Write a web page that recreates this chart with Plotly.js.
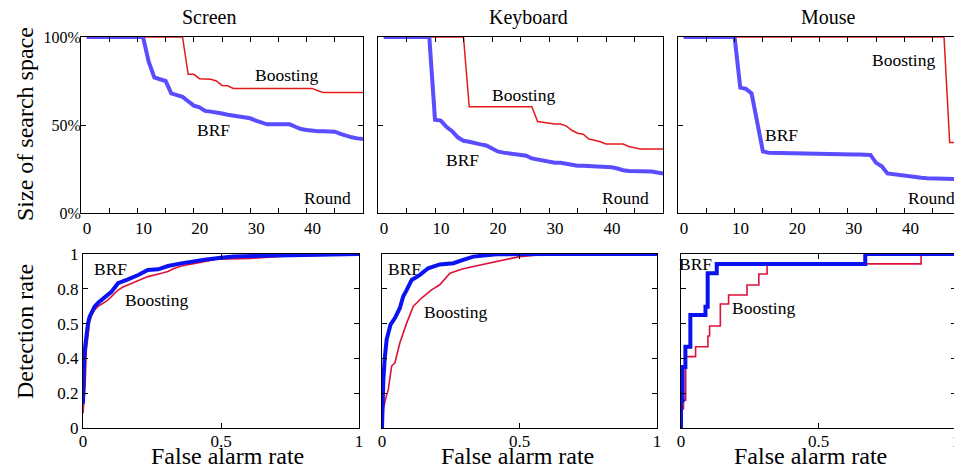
<!DOCTYPE html>
<html>
<head>
<meta charset="utf-8">
<script src="https://cdn.plot.ly/plotly-3.0.1.min.js"></script>
<style>
html, body { margin: 0; padding: 0; overflow: hidden; background: #fff; }
#chart { width: 962px; height: 470px; }
</style>
</head>
<body>
<div id="chart"></div>
<script>
// ---------- DATA ----------
var panels = ["Screen", "Keyboard", "Mouse"];
var rounds = [1,2,3,4,5,6,7,8,9,10,11,12,13,14,15,16,17,18,19,20,21,22,23,24,25,26,27,28,29,30,31,32,33,34,35,36,37,38,39,40,41,42,43,44,45,46,47,48,49,50];

// Size of search space (%) per round
var screenBRF = [100,100,100,100,100,100,100,100,100,100,100,86,77,76,75,68,67,66,63.5,61,60,58,57.6,57.3,56.5,55.8,55.2,54.5,54.2,53.8,52.5,51.3,50.4,50.4,50.4,50.4,50.4,49,47.7,47.2,46.7,46.5,46.4,46.3,46.2,45,43.8,43,42.4,42];
var screenBoost = [100,100,100,100,100,100,100,100,100,100,100,100,100,100,100,100,100,100,78.8,78.8,76.3,76,76,75,72.5,72.3,70.8,70.8,70.8,70.8,70.8,70.8,70.8,70.8,70.8,70.8,70.8,70.8,70.8,70.8,70.8,69.5,68.4,68.4,68.4,68.4,68.4,68.4,68.4,68.4];
var keyboardBRF = [100,100,100,100,100,100,100,100,100,53,52.5,49,46.5,43,41,40.5,40,39,38.4,36.5,35,34.3,33.9,33.5,33.2,32.5,31,30.3,29.5,28.8,28.6,28.5,28,27,26.8,26.8,26.7,26.7,26.7,26.4,26,25.3,24.3,23.9,23.9,23.9,23.8,23.6,23,22.5];
var keyboardBoost = [100,100,100,100,100,100,100,100,100,100,100,100,100,100,100,60.4,60.4,60.4,60.4,60.4,60.4,60.4,60.4,60.4,60.4,60.4,60.4,52,51.5,51,50.6,50.6,49.5,47,45.3,44.8,42,41.3,40.5,39.2,39.2,39.2,39.2,37.8,37.3,36.4,36.4,36.4,36.4,36.4];
var mouseBRF = [100,100,100,100,100,100,100,100,100,100,71.2,70.5,68,51,35,34.3,34.2,34.1,34,34,33.9,33.8,33.8,33.7,33.6,33.6,33.5,33.5,33.4,33.4,33.3,33.3,33.2,33,28.5,26.5,22.5,22,21.5,21,20.6,20.2,20,19.8,19.6,19.5,19.4,19.3,19.3,19.3];
var mouseBoost = [100,100,100,100,100,100,100,100,100,100,100,100,100,100,100,100,100,100,100,100,100,100,100,100,100,100,100,100,100,100,100,100,100,100,100,100,100,100,100,100,100,100,100,100,100,100,100,40,40,40];

// ROC curves: false alarm rate / detection rate
var screenBRF_fa = [0,0.002,0.004,0.008,0.012,0.018,0.024,0.032,0.042,0.055,0.066,0.085,0.103,0.127,0.145,0.163,0.2,0.235,0.272,0.308,0.356,0.405,0.447,0.5,0.545,0.65,0.79,0.9,1];
var screenBRF_dr = [0.14,0.3,0.39,0.47,0.544,0.6,0.64,0.67,0.697,0.72,0.736,0.76,0.783,0.832,0.846,0.854,0.879,0.908,0.912,0.931,0.946,0.96,0.969,0.978,0.985,0.99,0.993,0.997,1.0];
var screenBoost_fa = [0,0.004,0.008,0.012,0.018,0.024,0.032,0.042,0.055,0.072,0.086,0.103,0.116,0.127,0.145,0.163,0.2,0.235,0.284,0.308,0.327,0.356,0.405,0.485,0.606,0.75,0.9,1];
var screenBoost_dr = [0.084,0.17,0.257,0.448,0.55,0.611,0.65,0.678,0.70,0.716,0.73,0.755,0.774,0.793,0.81,0.822,0.851,0.87,0.889,0.9,0.915,0.931,0.946,0.97,0.975,0.99,0.993,0.995];
var keyboardBRF_fa = [0,0.002,0.005,0.01,0.017,0.031,0.047,0.065,0.077,0.09,0.108,0.138,0.168,0.21,0.26,0.295,0.332,0.416,0.5,0.6,0.8,1];
var keyboardBRF_dr = [0,0.15,0.28,0.4,0.51,0.594,0.632,0.69,0.756,0.794,0.851,0.88,0.918,0.94,0.947,0.966,0.985,0.998,1,1,1,1];
var keyboardBoost_fa = [0,0.002,0.005,0.012,0.023,0.035,0.047,0.065,0.09,0.114,0.144,0.18,0.21,0.247,0.289,0.332,0.392,0.44,0.5,0.586,0.65,0.8,1];
var keyboardBoost_dr = [0,0.06,0.11,0.16,0.223,0.356,0.375,0.49,0.604,0.7,0.747,0.794,0.823,0.89,0.912,0.928,0.947,0.966,0.985,0.998,1,1,1];
// mouse ROC is a step function: at each false alarm rate the detection rate becomes the given value
var mouseBRF_fa = [0,0,0.006,0.016,0.034,0.089,0.097,0.13,0.67,1];
var mouseBRF_dr = [0,0.16,0.35,0.467,0.649,0.697,0.889,0.943,1,1];
var mouseBoost_fa = [0,0.004,0.009,0.017,0.053,0.098,0.104,0.143,0.173,0.24,0.283,0.313,0.873,1];
var mouseBoost_dr = [0,0.11,0.16,0.41,0.467,0.529,0.586,0.713,0.764,0.822,0.885,0.943,1,1];

var topTickVals = [0,5,10,15,20,25,30,35,40,45,50];
var topTickText = ["0","","10","","20","","30","","40","",""];
var pctTickVals = [0,50,100];
var pctTickText = ["0%","50%","100%"];
var rocYTickVals = [0,0.2,0.4,0.6,0.8,1];
var rocYTickText = ["0","0.2","0.4","0.5","0.8","1"];
var rocXTickVals = [0,0.5,1];
var rocXTickText = ["0","0.5","1"];

// ---------- STYLE ----------
var W = 962, H = 470;
var FONT = '"Liberation Serif", "Times New Roman", "DejaVu Serif", serif';
var C_BRF_TOP = '#5a4cff', C_BOOST_TOP = '#e41a1a';
var C_BRF_BOT = '#0a12f2', C_BOOST_BOT = '#e0103c';

function px(v) { return v / W; }
function py(v) { return 1 - v / H; }

var topDomX = [[81,363],[378,663],[678,961]];
var botDomX = [[83,359],[382,657],[681,956]];
var topDomY = [py(213), py(37)];
var botDomY = [py(428), py(254)];

var traces = [];
var topData = [[screenBRF, screenBoost],[keyboardBRF, keyboardBoost],[mouseBRF, mouseBoost]];
var rocData = [
  [screenBRF_fa, screenBRF_dr, screenBoost_fa, screenBoost_dr, 'linear'],
  [keyboardBRF_fa, keyboardBRF_dr, keyboardBoost_fa, keyboardBoost_dr, 'linear'],
  [mouseBRF_fa, mouseBRF_dr, mouseBoost_fa, mouseBoost_dr, 'hv']
];

for (var i = 0; i < 3; i++) {
  var xa = 'x' + (i === 0 ? '' : (i + 1));
  var ya = 'y' + (i === 0 ? '' : (i + 1));
  traces.push({x: rounds, y: topData[i][1], xaxis: xa, yaxis: ya, mode: 'lines', name: 'Boosting',
    line: {color: C_BOOST_TOP, width: 1.5}, hoverinfo: 'skip'});
  traces.push({x: rounds, y: topData[i][0], xaxis: xa, yaxis: ya, mode: 'lines', name: 'BRF',
    line: {color: C_BRF_TOP, width: 4}, hoverinfo: 'skip'});
}
for (var j = 0; j < 3; j++) {
  var xb = 'x' + (j + 4);
  var yb = 'y' + (j + 4);
  var r = rocData[j];
  traces.push({x: r[2], y: r[3], xaxis: xb, yaxis: yb, mode: 'lines', name: 'Boosting',
    line: {color: C_BOOST_BOT, width: 1.6, shape: r[4]}, hoverinfo: 'skip'});
  traces.push({x: r[0], y: r[1], xaxis: xb, yaxis: yb, mode: 'lines', name: 'BRF',
    line: {color: C_BRF_BOT, width: 4, shape: r[4]}, hoverinfo: 'skip'});
}

var layout = {
  width: W, height: H,
  margin: {l: 0, r: 0, t: 0, b: 0},
  paper_bgcolor: '#fff', plot_bgcolor: '#fff',
  showlegend: false,
  font: {family: FONT, color: '#000', size: 17},
  annotations: []
};

function baseAxis() {
  return {showgrid: false, zeroline: false, showline: true, linecolor: '#000', linewidth: 1,
    mirror: 'ticks', ticks: 'inside', ticklen: 5, tickwidth: 1, tickcolor: '#000',
    tickmode: 'array', fixedrange: true};
}

for (var k = 0; k < 3; k++) {
  var sx = (k === 0 ? '' : (k + 1));
  var ax = baseAxis();
  ax.domain = [px(topDomX[k][0]), px(topDomX[k][1])];
  ax.range = [0, 50];
  ax.tickvals = topTickVals; ax.ticktext = topTickText;
  ax.tickfont = {size: 17, family: FONT};
  ax.ticklabelshift = 6;
  ax.anchor = 'y' + sx;
  layout['xaxis' + sx] = ax;
  var ay = baseAxis();
  ay.domain = topDomY;
  ay.range = [0, 100];
  ay.tickvals = pctTickVals; ay.ticktext = pctTickText;
  ay.showticklabels = (k === 0);
  ay.tickfont = {size: 16, family: FONT};
  ay.ticklabelstandoff = -4;
  ay.anchor = 'x' + sx;
  layout['yaxis' + sx] = ay;

  var bx = baseAxis();
  bx.domain = [px(botDomX[k][0]), px(botDomX[k][1])];
  bx.range = [0, 1];
  bx.tickvals = rocXTickVals; bx.ticktext = rocXTickText;
  bx.tickfont = {size: 17, family: FONT};
  bx.ticklabelstandoff = -2;
  bx.anchor = 'y' + (k + 4);
  layout['xaxis' + (k + 4)] = bx;
  var by = baseAxis();
  by.domain = botDomY;
  by.range = [0, 1];
  by.tickvals = rocYTickVals; by.ticktext = rocYTickText;
  by.showticklabels = (k === 0);
  by.tickfont = {size: 17, family: FONT};
  by.anchor = 'x' + (k + 4);
  layout['yaxis' + (k + 4)] = by;
}

function ann(text, x, y, xref, yref, size, extra) {
  var a = {text: text, x: x, y: y, xref: xref, yref: yref, showarrow: false,
    font: {family: FONT, size: size, color: '#000'}, xanchor: 'center', yanchor: 'middle'};
  for (var key in extra) a[key] = extra[key];
  layout.annotations.push(a);
}

// panel titles
var titleX = [209, 528, 828];
for (var t = 0; t < 3; t++) ann(panels[t], px(titleX[t]), py(17), 'paper', 'paper', 20, {});
// axis titles
ann('Size of search space', px(25), py(124), 'paper', 'paper', 24, {textangle: -90});
ann('Detection rate', px(25), py(332), 'paper', 'paper', 24, {textangle: -90});
var xtX = [227, 517, 810];
for (var u = 0; u < 3; u++) ann('False alarm rate', px(xtX[u]), py(456), 'paper', 'paper', 24, {});

// in-plot labels (top row)
var topLbl = [[36.5, 78.4, 23.5, 47], [25.5, 67, 14.9, 30], [39.8, 87, 18.3, 44.3]];
var roundX = [43.7, 43.5, 44.8];
for (var v = 0; v < 3; v++) {
  var s = (v === 0 ? '' : (v + 1));
  ann('Boosting', topLbl[v][0], topLbl[v][1], 'x' + s, 'y' + s, 17.5, {});
  ann('BRF', topLbl[v][2], topLbl[v][3], 'x' + s, 'y' + s, 17.5, {});
  ann('Round', roundX[v], 8.5, 'x' + s, 'y' + s, 17.5, {});
}
// in-plot labels (bottom row)
var botLbl = [[0.098, 0.912, 0.267, 0.736], [0.081, 0.912, 0.269, 0.668], [0.051, 0.94, 0.3, 0.688]];
for (var w = 0; w < 3; w++) {
  ann('BRF', botLbl[w][0], botLbl[w][1], 'x' + (w + 4), 'y' + (w + 4), 17.5, {});
  ann('Boosting', botLbl[w][2], botLbl[w][3], 'x' + (w + 4), 'y' + (w + 4), 17.5, {});
}

Plotly.newPlot('chart', traces, layout, {displayModeBar: false, staticPlot: true});
</script>
</body>
</html>
